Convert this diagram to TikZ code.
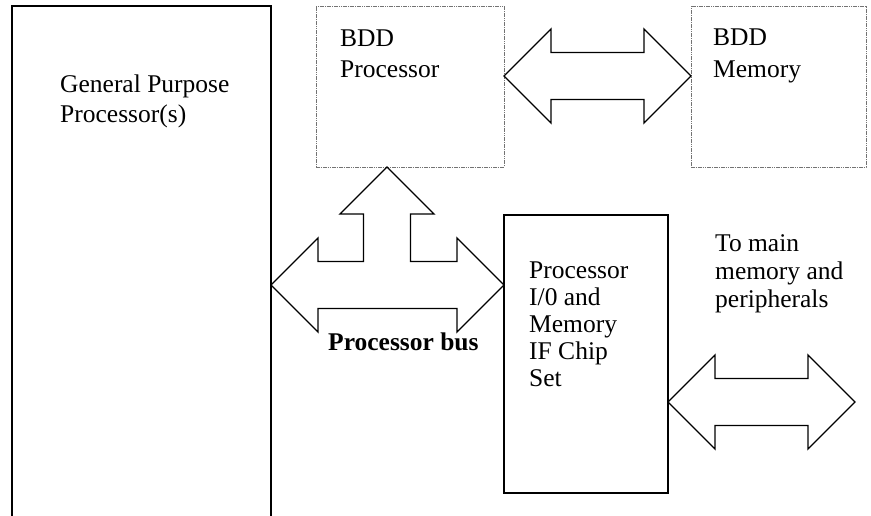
\documentclass[tikz,border=0pt]{standalone}
\usepackage{fontspec}
\setmainfont{Liberation Serif}
\usetikzlibrary{calc}

% horizontal block arrow with heads at both ends, given its two tips
\newcommand\blockdoublearrow[2]{%
  \draw[blockarrow] let \p1=(#1), \p2=(#2) in
    (\x1,\y1) -- (\x1+\hl,\y1+\hl) -- (\x1+\hl,\y1+\sh)
    -- (\x2-\hl,\y2+\sh) -- (\x2-\hl,\y2+\hl) -- (\x2,\y2)
    -- (\x2-\hl,\y2-\hl) -- (\x2-\hl,\y2-\sh)
    -- (\x1+\hl,\y1-\sh) -- (\x1+\hl,\y1-\hl) -- cycle;}
\newlength\hl \setlength\hl{47pt}   % head length / half height
\newlength\sh \setlength\sh{23.5pt} % half shaft thickness

\begin{document}
\begin{tikzpicture}[x=1pt,y=-1pt,
  box/.style={draw, line width=1.5pt, outer sep=0pt, inner sep=0pt, anchor=north west},
  softbox/.style={draw=black!55, line width=0.9pt, dash pattern=on 1.6pt off 0.7pt,
                  outer sep=0pt, inner sep=0pt, anchor=north west},
  blockarrow/.style={draw, line width=1.4pt, line join=miter, fill=white},
  % multi-line labels are placed by the baseline of their last line
  lbl/.style={font=\fontsize{25.5}{30}\selectfont, align=left, inner sep=0pt, anchor=base west}]
\useasboundingbox (0,0) rectangle (871,516);
\clip (0,0) rectangle (871,516);
\fill[white] (0,0) rectangle (871,516);

% blocks
\node[box, line width=1.9pt, minimum width=259pt, minimum height=540pt] (gpp) at (12,6) {};
\node[softbox, minimum width=188pt, minimum height=161pt] (bddp) at (316,6) {};
\node[softbox, minimum width=175pt, minimum height=161pt] (bddm) at (691,6) {};
\node[box, minimum width=164pt, minimum height=278pt] (io) at (504,215) {};

% tips of the block arrows
\coordinate (pL) at ($(bddp.north east)+(0,70)$);
\coordinate (mR) at ($(bddm.north west)+(0,70)$);
\coordinate (busL) at ($(gpp.north east)+(0,279)$);
\coordinate (busR) at ($(io.north west)+(0,70)$);
\coordinate (busU) at ($(bddp.south west)+(71,0)$);
\coordinate (ioR) at ($(io.north east)+(0,187)$);
\coordinate (ext) at ($(ioR)+(187,0)$);

% BDD processor <-> BDD memory
\blockdoublearrow{pL}{mR}

% processor bus with a branch up to the BDD processor
\draw[blockarrow] let \p1=(busL), \p2=(busR), \p3=(busU) in
  (\x1,\y1) -- (\x1+\hl,\y1+\hl) -- (\x1+\hl,\y1+\sh)
  -- (\x3-\sh,\y1+\sh) -- (\x3-\sh,\y3-\hl) -- (\x3-\hl,\y3-\hl) -- (\x3,\y3)
  -- (\x3+\hl,\y3-\hl) -- (\x3+\sh,\y3-\hl) -- (\x3+\sh,\y2+\sh)
  -- (\x2-\hl,\y2+\sh) -- (\x2-\hl,\y2+\hl) -- (\x2,\y2)
  -- (\x2-\hl,\y2-\hl) -- (\x2-\hl,\y2-\sh)
  -- (\x1+\hl,\y1-\sh) -- (\x1+\hl,\y1-\hl) -- cycle;

% chip set <-> main memory and peripherals
\blockdoublearrow{ioR}{ext}

% labels
\node[lbl] (tgpp) at (60,123) {General Purpose\\Processor(s)};
\node[lbl, font=\fontsize{25.5}{31}\selectfont] (tbddp) at (340,78) {BDD\\Processor};
\node[lbl, font=\fontsize{25.5}{32}\selectfont] (tbddm) at (713,78) {BDD\\Memory};
\node[lbl, font=\fontsize{25.5}{27}\selectfont] (tio) at (529,386)
  {Processor\\I/0 and\\Memory\\IF Chip\\Set};
\node[lbl, font=\fontsize{25.5}{28}\selectfont] (text) at (715,307)
  {To main\\memory and\\peripherals};
\node[lbl, font=\fontsize{25.5}{30}\selectfont\bfseries] (tbus) at (328,350) {Processor bus};
\end{tikzpicture}
\end{document}
